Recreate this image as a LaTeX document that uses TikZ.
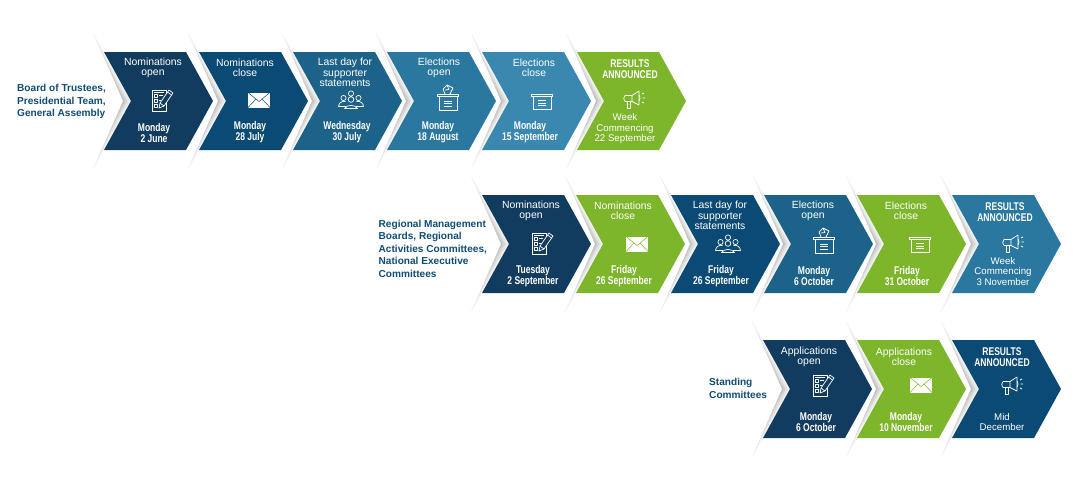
\documentclass[tikz,border=0pt]{standalone}
\usepackage{fontspec}
\setmainfont{Liberation Sans}
\newfontfamily\condfont[FakeStretch=0.76]{Liberation Sans}
\definecolor{navyA}{HTML}{123C5F}
\definecolor{navyB}{HTML}{0B4A74}
\definecolor{blueA}{HTML}{1D6389}
\definecolor{blueB}{HTML}{2A779F}
\definecolor{blueC}{HTML}{3A88B0}
\definecolor{leaf}{HTML}{7DB52B}
\definecolor{labelblue}{HTML}{0F4C75}
\tikzset{
 steptext/.style={white,align=center,inner sep=0pt,font=\fontsize{10.4}{10.3}\selectfont},
 weektext/.style={white,align=center,inner sep=0pt,font=\fontsize{9.7}{10.2}\selectfont},
 datetext/.style={white,align=center,inner sep=0pt,font=\fontsize{11.2}{11}\selectfont\condfont\bfseries},
 rowlabel/.style={labelblue,align=left,anchor=north west,inner sep=0pt,font=\fontsize{10.1}{12.6}\selectfont\bfseries},
 iconline/.style={white,line width=.7pt,line join=round},
 pics/chevron/.style={code={
  \foreach \k/\g/\t in {0/24/9,1/17/6,2/11/4,3/6/2,4/2/1}
   \shade[top color=black!\t,bottom color=black!\t,middle color=black!\g] (-11,-19) -- (29,49) -- (-11,117) -- ({19+2*\k},49) -- cycle;
  \fill[#1] (0,0) -- (82,0) -- (109,49) -- (82,98) -- (0,98) -- (27,49) -- cycle;
 }},
 pics/checklist/.style={code={
  \draw[iconline] (5,-4) -- (5,-10) -- (-9,-10) -- (-9,11) -- (5,11) -- (5,3);
  \draw[iconline] (-7,-8) -- (3,-8) (-2,-4.5) -- (2,-4.5) (-2,.5) -- (0,.5) (-2,6) -- (-1,6);
  \draw[iconline] (-7,-6) rectangle (-3.5,-2.5) (-7,-1) rectangle (-3.5,2.5) (-7,4) rectangle (-3.5,7.5);
  \draw[iconline,fill=#1] (-2,8) -- (-1,3) -- (8,-10) -- (12,-7) -- (3,6) -- cycle;
  \draw[iconline] (-1,3) -- (3,6) (6.5,-8) -- (10.5,-5);
 }},
 pics/envelope/.style={code={
  \fill[white] (-11,-7.5) rectangle (11,7.5);
  \draw[#1,line width=.5pt] (-11,-7.5) -- (0,1.5) -- (11,-7.5) (-11,7.5) -- (-3,-1) (11,7.5) -- (3,-1);
 }},
 pics/people/.style={code={
  \draw[iconline] (0,-6.5) circle (2.6) (-7.5,-2) circle (2.6) (7.5,-2) circle (2.6) (0,-.5) circle (2.8);
  \draw[iconline] (-6.5,8.5) to[bend left=55] (6.5,8.5) -- cycle;
  \draw[iconline] (-5,6.5) -- (-12.5,6.5) to[bend left=55] (-5.5,1.5);
  \draw[iconline] (5,6.5) -- (12.5,6.5) to[bend right=55] (5.5,1.5);
 }},
 pics/ballotbox/.style={code={
  \draw[iconline] (-10.5,-4) -- (10.5,-4) -- (10.5,-1.5) -- (-10.5,-1.5) -- cycle;
  \draw[iconline] (-9,-1.5) -- (-9,12.5) -- (9,12.5) -- (9,-1.5);
  \draw[iconline] (-4,3) -- (4,3) (-4,5.5) -- (4,5.5) (-4,8) -- (4,8);
  \draw[iconline] (-5,-9) -- (-1,-13) -- (5,-10) -- (2,-4) (-5,-9) -- (-3,-4) (-1,-13) -- (1,-8.5) -- (-3,-8);
 }},
 pics/closedbox/.style={code={
  \draw[iconline] (-10.5,-7) -- (10.5,-7) -- (10.5,-4.5) -- (-10.5,-4.5) -- cycle;
  \draw[iconline] (-9,-4.5) -- (-9,8) -- (9,8) -- (9,-4.5);
  \draw[iconline] (-4,-.5) -- (4,-.5) (-4,2) -- (4,2) (-4,4.5) -- (4,4.5);
 }},
 pics/megaphone/.style={code={
  \draw[iconline] (-9,-3.5) -- (-2,-3.5) -- (5,-8) -- (5,6) -- (-2,2.5) -- (-9,2.5) to[bend left=50] cycle;
  \draw[iconline] (-2,-3.5) -- (-2,2.5) (5,-4) to[bend left=40] (5,2);
  \draw[iconline] (-6.5,2.5) -- (-6.5,9) -- (-3.5,9) -- (-3.5,2.5);
  \draw[iconline] (8,-5) -- (10,-6) (8.5,-1) -- (11,-1) (8,3) -- (10,4);
 }},
}
\begin{document}
\begin{tikzpicture}[x=1pt,y=-1pt]
 \useasboundingbox (0,0) rectangle (1090,499);

 % first row
 \pic at (104,52) {chevron=navyA};
 \pic at (199,52) {chevron=navyB};
 \pic at (293,52) {chevron=blueA};
 \pic at (387,52) {chevron=blueB};
 \pic at (482,52) {chevron=blueC};
 \pic at (577,52) {chevron=leaf};
 \node[rowlabel] (board) at (17,84) {Board of Trustees,\\Presidential Team,\\General Assembly};
 \node[steptext] (a1) at (153,67.5) {Nominations\\open};
 \node[steptext] (a2) at (245,67.5) {Nominations\\close};
 \node[steptext] (a3) at (345,72.5) {Last day for\\supporter\\statements};
 \node[steptext] (a4) at (439,67.5) {Elections\\open};
 \node[steptext] (a5) at (534,67.5) {Elections\\close};
 \node[datetext] (a6) at (630,69) {RESULTS\\ANNOUNCED};
 \node[datetext] (d1) at (154,132.5) {Monday\\2 June};
 \node[datetext] (d2) at (250,132.5) {Monday\\28 July};
 \node[datetext] (d3) at (347,132.5) {Wednesday\\30 July};
 \node[datetext] (d4) at (438,132.5) {Monday\\18 August};
 \node[datetext] (d5) at (530,132.5) {Monday\\15 September};
 \node[weektext] (d6) at (625,128.5) {Week\\Commencing\\22 September};
 \pic at (161,100) {checklist=navyA};
 \pic at (259,100) {envelope=navyB};
 \pic at (351,100) {people};
 \pic at (448,98) {ballotbox};
 \pic at (542,101) {closedbox};
 \pic at (634,99) {megaphone};

 % second row
 \pic at (482,195) {chevron=navyA};
 \pic at (576,195) {chevron=leaf};
 \pic at (671,195) {chevron=navyB};
 \pic at (764,195) {chevron=blueA};
 \pic at (857,195) {chevron=leaf};
 \pic at (952,195) {chevron=blueB};
 \node[rowlabel] (regional) at (378.5,219.5) {Regional Management\\Boards, Regional\\Activities Committees,\\National Executive\\Committees};
 \node[steptext] (b1) at (531,210.5) {Nominations\\open};
 \node[steptext] (b2) at (623,210.5) {Nominations\\close};
 \node[steptext] (b3) at (720,215.5) {Last day for\\supporter\\statements};
 \node[steptext] (b4) at (813,210.5) {Elections\\open};
 \node[steptext] (b5) at (906,210.5) {Elections\\close};
 \node[datetext] (b6) at (1005,212) {RESULTS\\ANNOUNCED};
 \node[datetext] (e1) at (533,276) {Tuesday\\2 September};
 \node[datetext] (e2) at (624,276) {Friday\\26 September};
 \node[datetext] (e3) at (721,276) {Friday\\26 September};
 \node[datetext] (e4) at (814,276) {Monday\\6 October};
 \node[datetext] (e5) at (907,276) {Friday\\31 October};
 \node[weektext] (e6) at (1003,271.5) {Week\\Commencing\\3 November};
 \pic at (541,243) {checklist=navyA};
 \pic at (637,244) {envelope=leaf};
 \pic at (728,244) {people};
 \pic at (824,241) {ballotbox};
 \pic at (920,244) {closedbox};
 \pic at (1013,243) {megaphone};

 % third row
 \pic at (763,340) {chevron=navyA};
 \pic at (857,340) {chevron=leaf};
 \pic at (952,340) {chevron=navyB};
 \node[rowlabel] (standing) at (709,378) {Standing\\Committees};
 \node[steptext] (c1) at (809,356.5) {Applications\\open};
 \node[steptext] (c2) at (904,356.5) {Applications\\close};
 \node[datetext] (c3) at (1002,357) {RESULTS\\ANNOUNCED};
 \node[datetext] (f1) at (816,421.5) {Monday\\6 October};
 \node[datetext] (f2) at (906,421.5) {Monday\\10 November};
 \node[weektext] (f3) at (1002,422) {Mid\\December};
 \pic at (822,385) {checklist=navyA};
 \pic at (921,385) {envelope=leaf};
 \pic at (1012,385) {megaphone};
\end{tikzpicture}
\end{document}
